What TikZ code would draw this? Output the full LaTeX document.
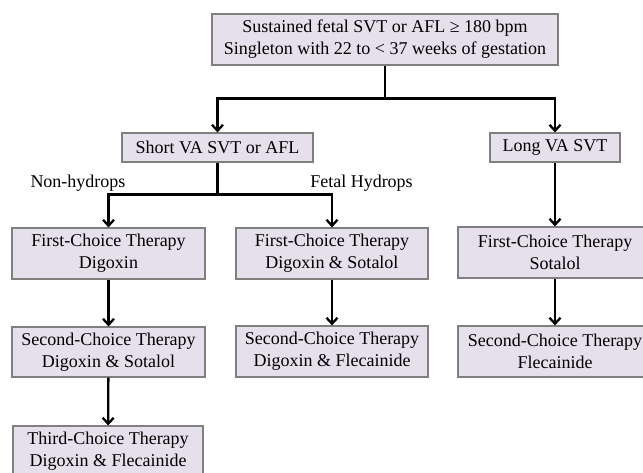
\documentclass[tikz,border=0pt]{standalone}
\usepackage{fontspec}
\setmainfont{Liberation Serif}
\usetikzlibrary{arrows.meta}
\definecolor{boxfill}{HTML}{E6E0EC}
\definecolor{boxline}{HTML}{7F7F7F}
\begin{document}
\begin{tikzpicture}[x=1pt,y=-1pt,
  box/.style={draw=boxline,line width=1.1pt,fill=boxfill,inner sep=0pt,align=center,
    font=\fontsize{18}{22}\selectfont},
  conn/.style={line width=2.3pt,black},
  arr/.style={conn,-{Straight Barb[length=6pt,width=11pt,line width=2.3pt]}},
  lab/.style={font=\fontsize{18}{22}\selectfont,inner sep=0pt}]
\useasboundingbox (0,0) rectangle (643,472);
\begin{scope}
\clip (0,0) rectangle (643,472);
\node[box,minimum width=346pt,minimum height=51pt] (top) at (385,39.5)
  {Sustained fetal SVT or AFL ≥ 180 bpm\\Singleton with 22 to < 37 weeks of gestation};
\node[box,minimum width=191pt,minimum height=29pt] (short) at (217.5,147.5) {Short VA SVT or AFL};
\node[box,minimum width=130pt,minimum height=29pt] (long) at (555,147.5) {Long VA SVT};
\node[box,minimum width=193pt,minimum height=51pt] (l1) at (108.5,253.5) {First-Choice Therapy\\Digoxin};
\node[box,minimum width=193pt,minimum height=50pt] (l2) at (108.5,352) {Second-Choice Therapy\\Digoxin \& Sotalol};
\node[box,minimum width=190pt,minimum height=50pt] (l3) at (108,451) {Third-Choice Therapy\\Digoxin \& Flecainide};
\node[box,minimum width=192pt,minimum height=51pt] (m1) at (332,253.5) {First-Choice Therapy\\Digoxin \& Sotalol};
\node[box,minimum width=192pt,minimum height=51pt] (m2) at (332,351.5) {Second-Choice Therapy\\Digoxin \& Flecainide};
\node[box,minimum width=194pt,minimum height=51pt] (r1) at (555,252.5) {First-Choice Therapy\\Sotalol};
\node[box,minimum width=194pt,minimum height=51pt] (r2) at (555,351.5) {Second-Choice Therapy\\Flecainide};
\end{scope}
\node[lab] (nh) at (78,183) {Non-hydrops};
\node[lab] (fh) at (361.5,183) {Fetal Hydrops};
% connectors
\draw[conn] (top.south) -- ++(0,33) coordinate (j1);
\draw[arr] (j1) -| (short.north);
\draw[arr] (j1) -| (long.north);
\draw[conn] (short.south) -- ++(0,32) coordinate (j2);
\draw[arr] (j2) -| (l1.north);
\draw[arr] (j2) -| (m1.north);
\draw[arr] (l1) -- (l2);
\draw[arr] (l2) -- (l3);
\draw[arr] (m1) -- (m2);
\draw[arr] (long) -- (r1);
\draw[arr] (r1) -- (r2);
\end{tikzpicture}
\end{document}
